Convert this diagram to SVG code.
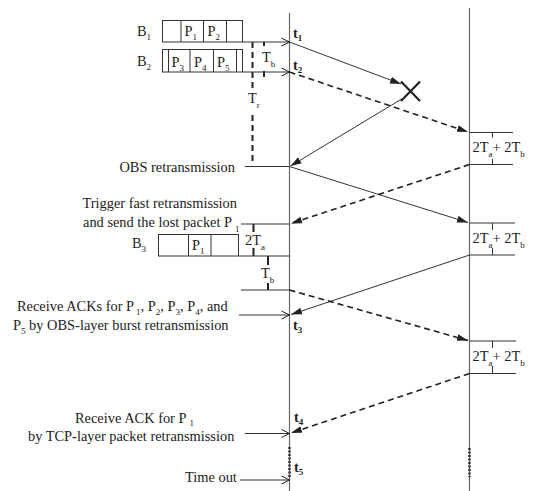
<svg xmlns="http://www.w3.org/2000/svg" width="533" height="491" viewBox="0 0 533 491">
<defs>
<marker id="fa" markerUnits="userSpaceOnUse" markerWidth="12" markerHeight="8" refX="11" refY="4" orient="auto"><path d="M0,0.5 L11,4 L0,7.5 z" fill="#222"/></marker>
<marker id="oa" markerUnits="userSpaceOnUse" markerWidth="10" markerHeight="10" refX="9" refY="5" orient="auto"><path d="M1,1 L9,5 L1,9" fill="none" stroke="#222" stroke-width="1"/></marker>
</defs>
<style>
.tl{stroke:#666;stroke-width:1.2;fill:none}
.ln{stroke:#333;stroke-width:1;fill:none}
.dash{stroke:#222;stroke-width:1.6;stroke-dasharray:6 4;fill:none}
.vd{stroke:#222;stroke-width:2;stroke-dasharray:6 4;fill:none}
.tk{stroke:#222;stroke-width:2;fill:none}
.dot{stroke:#333;stroke-width:2.5;stroke-dasharray:2 1.5;fill:none}
.box{stroke:#333;stroke-width:1;fill:#fff}
text{font-family:"Liberation Serif","Times New Roman",serif;font-size:14.4px;fill:#222}
.s{font-size:9px}
.b{font-weight:bold}
</style>
<g id="timelines">
<line class="tl" x1="289.5" y1="13" x2="289.5" y2="491"/>
<line class="tl" x1="469.5" y1="8" x2="469.5" y2="491"/>
<line class="dot" x1="289.5" y1="447" x2="289.5" y2="478"/>
<line class="dot" x1="469.5" y1="448" x2="469.5" y2="477"/>
</g>
<g id="B1">
<rect class="box" x="162.5" y="20.5" width="80" height="21.5"/>
<line class="ln" x1="181" y1="20.5" x2="181" y2="42"/>
<line class="ln" x1="203.5" y1="20.5" x2="203.5" y2="42"/>
<line class="ln" x1="226.5" y1="20.5" x2="226.5" y2="42"/>
<text x="184.5" y="36">P<tspan class="s" dy="4">1</tspan></text>
<text x="207.5" y="36">P<tspan class="s" dy="4">2</tspan></text>
<text x="137" y="36" font-size="15">B<tspan class="s" dy="4">1</tspan></text>
</g>
<g id="B2">
<rect class="box" x="162.5" y="49.5" width="80" height="22.5"/>
<line class="ln" x1="168.5" y1="49.5" x2="168.5" y2="72"/>
<line class="ln" x1="190" y1="49.5" x2="190" y2="72"/>
<line class="ln" x1="213.5" y1="49.5" x2="213.5" y2="72"/>
<line class="ln" x1="236.5" y1="49.5" x2="236.5" y2="72"/>
<text x="171.5" y="67">P<tspan class="s" dy="4">3</tspan></text>
<text x="194" y="67">P<tspan class="s" dy="4">4</tspan></text>
<text x="217" y="67">P<tspan class="s" dy="4">5</tspan></text>
<text x="137" y="66" font-size="15">B<tspan class="s" dy="4">2</tspan></text>
</g>
<g id="B3">
<rect class="box" x="158.5" y="234.5" width="80" height="21.5"/>
<line class="ln" x1="188.5" y1="234.5" x2="188.5" y2="256"/>
<line class="ln" x1="211" y1="234.5" x2="211" y2="256"/>
<text x="192" y="250">P<tspan class="s" dy="4">1</tspan></text>
<text x="132" y="248" font-size="15">B<tspan class="s" dy="4">3</tspan></text>
</g>
<g id="timing">
<line class="vd" x1="252.5" y1="42" x2="252.5" y2="90"/>
<line class="vd" x1="252.5" y1="115" x2="252.5" y2="163"/>
<text x="248" y="103">T<tspan class="s" dy="5">r</tspan></text>
<path class="tk" stroke-width="1.5" d="M264,42v4M264,71v6"/>
<text x="262" y="62">T<tspan class="s" dy="5">b</tspan></text>
<path class="tk" d="M253.5,224v8M253.5,248v8"/>
<text x="245" y="245">2T<tspan class="s" dy="5">a</tspan></text>
<path class="tk" d="M268,256v9M268,283v7"/>
<text x="261" y="278">T<tspan class="s" dy="5">b</tspan></text>
</g>
<g id="labels">
<text x="293" y="38" class="b">t<tspan class="s" dy="3">1</tspan></text>
<text x="293" y="70" class="b">t<tspan class="s" dy="3">2</tspan></text>
<text x="293" y="330" class="b">t<tspan class="s" dy="3">3</tspan></text>
<text x="294" y="422" class="b">t<tspan class="s" dy="3">4</tspan></text>
<text x="294" y="472" class="b">t<tspan class="s" dy="3">5</tspan></text>
<text x="235" y="172" text-anchor="end">OBS retransmission</text>
<text x="237" y="208" text-anchor="end">Trigger fast retransmission</text>
<text x="83" y="227">and send the lost packet P<tspan class="s" dx="3" dy="5">1</tspan></text>
<text x="17" y="311">Receive ACKs for P<tspan class="s" dx="2" dy="4">1</tspan><tspan dy="-4">, P</tspan><tspan class="s" dy="4">2</tspan><tspan dy="-4">, P</tspan><tspan class="s" dy="4">3</tspan><tspan dy="-4">, P</tspan><tspan class="s" dy="4">4</tspan><tspan dy="-4">, and</tspan></text>
<text x="13" y="330">P<tspan class="s" dy="4">5</tspan><tspan dy="-4"> by OBS-layer burst retransmission</tspan></text>
<text x="75" y="423">Receive ACK for P<tspan class="s" dx="3" dy="3">1</tspan></text>
<text x="28" y="441">by TCP-layer packet retransmission</text>
<text x="185" y="482">Time out</text>
</g>
<g id="right-labels">
<text x="472.5" y="152">2T<tspan class="s" dy="5">a</tspan><tspan dy="-5">+ 2T</tspan><tspan class="s" dy="5">b</tspan></text>
<text x="472.5" y="243">2T<tspan class="s" dy="5">a</tspan><tspan dy="-5">+ 2T</tspan><tspan class="s" dy="5">b</tspan></text>
<text x="472.5" y="361">2T<tspan class="s" dy="5">a</tspan><tspan dy="-5">+ 2T</tspan><tspan class="s" dy="5">b</tspan></text>
</g>
<g id="connectors">
<line class="ln" x1="242.5" y1="42" x2="289.5" y2="42" marker-end="url(#oa)"/>
<line class="ln" x1="242.5" y1="72" x2="289.5" y2="72" marker-end="url(#oa)"/>
<line class="ln" x1="245" y1="166.5" x2="289.5" y2="166.5"/>
<line class="ln" x1="241" y1="224" x2="289.5" y2="224"/>
<line class="ln" x1="238.5" y1="256" x2="289.5" y2="256"/>
<line class="ln" x1="241" y1="290" x2="289.5" y2="290"/>
<line class="ln" x1="239" y1="315" x2="289.5" y2="315" marker-end="url(#oa)"/>
<line class="ln" x1="245" y1="433.5" x2="289.5" y2="433.5" marker-end="url(#oa)"/>
<line class="ln" x1="240" y1="480" x2="289.5" y2="480" marker-end="url(#oa)"/>
<line class="ln" x1="469.5" y1="132.5" x2="513" y2="132.5"/>
<line class="ln" x1="469.5" y1="164.5" x2="513" y2="164.5"/>
<line class="ln" x1="469.5" y1="223" x2="515" y2="223"/>
<line class="ln" x1="469.5" y1="255" x2="515" y2="255"/>
<line class="ln" x1="469.5" y1="341" x2="516" y2="341"/>
<line class="ln" x1="469.5" y1="373.5" x2="516" y2="373.5"/>
<path class="ln" stroke-width="1.5" d="M492.5,132.5v5M492.5,159v5.5M492.5,223v7M492.5,248v7M492.5,341v7M492.5,366v7.5"/>
<line class="ln" x1="289.5" y1="42" x2="401" y2="84" marker-end="url(#fa)"/>
<path d="M401,81.5 L420,101 M420,81.5 L401,101" stroke="#222" stroke-width="2.2" fill="none"/>
<line class="dash" x1="289.5" y1="72" x2="468" y2="132" marker-end="url(#fa)"/>
<line class="ln" x1="405" y1="97" x2="290.5" y2="166" marker-end="url(#fa)"/>
<line class="ln" x1="289.5" y1="166.5" x2="468" y2="222.5" marker-end="url(#fa)"/>
<line class="dash" x1="469.5" y1="164.5" x2="291" y2="223.5" marker-end="url(#fa)"/>
<line class="ln" x1="469.5" y1="255" x2="291" y2="314.5" marker-end="url(#fa)"/>
<line class="dash" x1="289.5" y1="290" x2="468" y2="340.5" marker-end="url(#fa)"/>
<line class="dash" x1="469.5" y1="373.5" x2="291" y2="433" marker-end="url(#fa)"/>
</g>
</svg>
